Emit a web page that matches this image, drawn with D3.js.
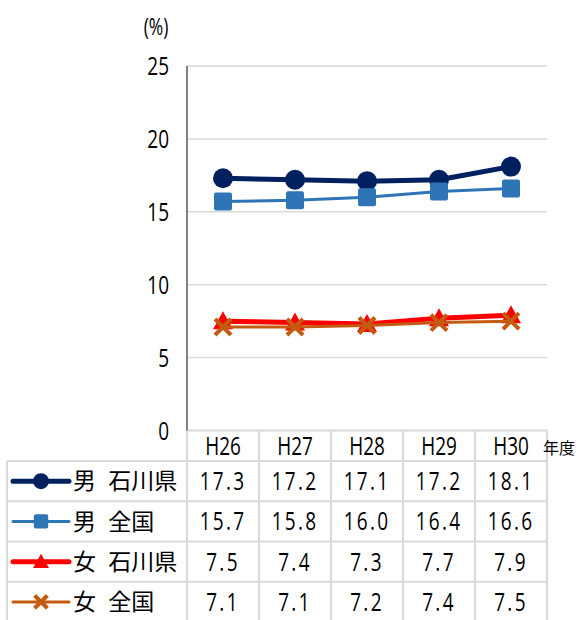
<!DOCTYPE html>
<html><head><meta charset="utf-8">
<script src="https://cdn.jsdelivr.net/npm/d3@7"></script>
<style>
html,body{margin:0;padding:0;background:#fff;}
svg{display:block;}
.num{font-family:"Open Sans","Noto Sans",sans-serif;}
.jp{font-family:"Noto Sans CJK JP",sans-serif;}
</style>
</head><body>
<svg id="c" width="577" height="620"></svg>
<script>
const years = ["H26","H27","H28","H29","H30"];
const seriesNames = ["男 石川県","男 全国","女 石川県","女 全国"];
const maleIshikawa = [17.3,17.2,17.1,17.2,18.1];
const maleNational = [15.7,15.8,16.0,16.4,16.6];
const femaleIshikawa = [7.5,7.4,7.3,7.7,7.9];
const femaleNational = [7.1,7.1,7.2,7.4,7.5];
const yTicks = [0,5,10,15,20,25];
const unitLabel = "(%)";
const xUnitLabel = "年度";

(function(){
const seriesValues = [maleIshikawa, maleNational, femaleIshikawa, femaleNational];
const styles = [
  {color:"#002060", width:5, marker:"circle", size:10},
  {color:"#2E75B6", width:3, marker:"square", size:9},
  {color:"#FF0000", width:5, marker:"triangle", size:10},
  {color:"#C55A11", width:3, marker:"cross", size:8}
];
const SX = 0.76;

const svg = d3.select("#c");
const pl = 187, pr = 547, pt = 66, pb = 430.5;
const x = d3.scaleBand().domain(years).range([pl,pr]);
const y = d3.scaleLinear().domain([0,25]).range([pb,pt]);
const rows = d3.scaleBand().domain(seriesNames).range([461,622]);

function ctext(g, tx, ty, txt, size, anchor, ls){
  return g.append("text").attr("class","num")
    .attr("transform",`translate(${tx},${ty}) scale(${SX},1)`)
    .attr("dy","0.36em").attr("text-anchor",anchor).attr("font-size",size)
    .attr("letter-spacing",ls||0).attr("fill","#000").text(txt);
}

svg.append("g").selectAll("line").data(yTicks.filter(d=>d>0)).join("line")
  .attr("x1",pl).attr("x2",pr).attr("y1",d=>y(d)).attr("y2",d=>y(d))
  .attr("stroke","#d9d9d9").attr("stroke-width",1.5);

const yl = svg.append("g");
yTicks.forEach(t=>ctext(yl, 169, y(t), t, 25, "end"));

ctext(svg, 156, 27, unitLabel, 23, "middle");

const tg = svg.append("g").attr("stroke","#d9d9d9").attr("stroke-width",2);
tg.append("line").attr("x1",pl).attr("x2",pr).attr("y1",pb).attr("y2",pb);
const hLines = seriesNames.map(s=>rows(s)).concat([rows.range()[1]]);
tg.selectAll("line.h").data(hLines).join("line").attr("class","h")
  .attr("x1",7).attr("x2",pr).attr("y1",d=>d).attr("y2",d=>d);
tg.append("line").attr("x1",7).attr("x2",7).attr("y1",rows.range()[0]).attr("y2",rows.range()[1]);
const vLines = years.map(yr=>x(yr)).concat([pr]);
tg.selectAll("line.v").data(vLines).join("line").attr("class","v")
  .attr("x1",d=>d).attr("x2",d=>d).attr("y1",pb).attr("y2",rows.range()[1]);

svg.append("line").attr("x1",pl).attr("x2",pl).attr("y1",pt).attr("y2",pb)
  .attr("stroke","#595959").attr("stroke-width",1.5);

const hd = svg.append("g");
years.forEach(yr=>ctext(hd, x(yr)+x.bandwidth()/2, 446, yr, 25, "middle"));
svg.append("text").attr("class","jp").attr("x",543).attr("y",448).attr("dy","0.36em")
  .attr("font-size",16).text(xUnitLabel);

function drawMarker(g, type, cx, cy, s, color){
  if(type==="circle"){
    g.append("circle").attr("cx",cx).attr("cy",cy).attr("r",s).attr("fill",color);
  } else if(type==="square"){
    g.append("rect").attr("x",cx-s).attr("y",cy-s).attr("width",2*s).attr("height",2*s)
      .attr("rx",2).attr("fill",color);
  } else if(type==="triangle"){
    g.append("path").attr("d",`M${cx},${cy-s}L${cx+s},${cy+s*0.8}L${cx-s},${cy+s*0.8}Z`).attr("fill",color);
  } else if(type==="cross"){
    g.append("path").attr("d",`M${cx-s},${cy-s}L${cx+s},${cy+s}M${cx+s},${cy-s}L${cx-s},${cy+s}`)
      .attr("stroke",color).attr("stroke-width",4).attr("fill","none");
  }
}

const line = d3.line().x((d,i)=>x(years[i])+x.bandwidth()/2).y(d=>y(d));
seriesValues.forEach((vals,k)=>{
  const st = styles[k];
  const g = svg.append("g");
  g.append("path").datum(vals).attr("d",line).attr("fill","none")
    .attr("stroke",st.color).attr("stroke-width",st.width).attr("stroke-linejoin","round");
  vals.forEach((v,i)=>drawMarker(g, st.marker, x(years[i])+x.bandwidth()/2, y(v), st.size, st.color));
});

seriesNames.forEach((name,k)=>{
  const st = styles[k];
  const cy = rows(name)+rows.bandwidth()/2;
  const g = svg.append("g");
  g.append("line").attr("x1",13).attr("x2",69).attr("y1",cy).attr("y2",cy)
    .attr("stroke",st.color).attr("stroke-width",st.width).attr("stroke-linecap","round");
  drawMarker(g, st.marker, 41, cy, st.size*0.8, st.color);
  g.append("text").attr("class","jp").attr("x",73).attr("y",cy).attr("dy","0.36em")
    .attr("font-size",23).attr("word-spacing",7).attr("fill","#000").text(name);
  seriesValues[k].forEach((v,i)=>ctext(g, x(years[i])+x.bandwidth()/2, cy, v.toFixed(1), 25, "middle", 3));
});
})();
</script>
</body></html>
